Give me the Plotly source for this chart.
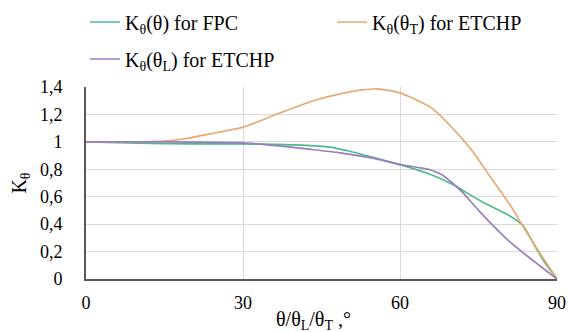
import plotly.graph_objects as go

# Data
x_fpc = [0, 10, 20, 30, 38, 42, 47, 50, 55, 60, 66, 70, 75.5, 81, 83.5, 85.5, 87.5, 90]
k_fpc = [1.0, 0.99, 0.985, 0.985, 0.98, 0.975, 0.96, 0.935, 0.885, 0.834, 0.76, 0.69, 0.567, 0.46, 0.39, 0.26, 0.13, 0.0]

x_etchp_t = [0, 10, 14, 18, 24, 30, 37, 43.5, 48.5, 52, 55.7, 60, 66, 69.7, 73.6, 77.4, 81.2, 83.1, 86.3, 90]
k_etchp_t = [1.0, 1.0, 1.003, 1.017, 1.06, 1.107, 1.21, 1.30, 1.35, 1.375, 1.387, 1.357, 1.248, 1.114, 0.944, 0.737, 0.53, 0.41, 0.214, 0.0]

x_etchp_l = [0, 10, 20, 30, 37, 43, 48.5, 55, 60, 64, 66, 68, 70, 72, 75.5, 81, 90]
k_etchp_l = [1.0, 1.0, 0.998, 0.993, 0.97, 0.945, 0.92, 0.88, 0.834, 0.81, 0.793, 0.76, 0.70, 0.63, 0.48, 0.27, 0.0]

x_ticks = [0, 30, 60, 90]
y_ticks = [0, 0.2, 0.4, 0.6, 0.8, 1.0, 1.2, 1.4]

name_fpc = "K<sub>θ</sub>(θ) for FPC"
name_t = "K<sub>θ</sub>(θ<sub>T</sub>) for ETCHP"
name_l = "K<sub>θ</sub>(θ<sub>L</sub>) for ETCHP"

C_GREEN = "#4dbb8a"
C_ORANGE = "#e8a872"
C_PURPLE = "#9a7cc0"
FONT = "Liberation Serif"

fig = go.Figure()
fig.add_trace(go.Scatter(x=x_fpc, y=k_fpc, mode="lines", name=name_fpc,
                         line=dict(color=C_GREEN, width=1.7, shape="spline", smoothing=0.6),
                         legend="legend"))
fig.add_trace(go.Scatter(x=x_etchp_t, y=k_etchp_t, mode="lines", name=name_t,
                         line=dict(color=C_ORANGE, width=1.7, shape="spline", smoothing=0.6),
                         legend="legend3"))
fig.add_trace(go.Scatter(x=x_etchp_l, y=k_etchp_l, mode="lines", name=name_l,
                         line=dict(color=C_PURPLE, width=1.7, shape="spline", smoothing=0.6),
                         legend="legend2"))

W, H = 568, 332
L, R, T, B = 86, 11, 87, 53
pw = W - L - R
ph = H - T - B

def px_x(p):
    return (p - L) / pw

def px_y(p):
    return (H - B - p) / ph

leg_common = dict(orientation="h", xanchor="left", yanchor="middle",
                  font=dict(family=FONT, size=20), bgcolor="rgba(0,0,0,0)", borderwidth=0)

fig.update_layout(
    width=W, height=H,
    margin=dict(l=L, r=R, t=T, b=B, autoexpand=False),
    paper_bgcolor="white", plot_bgcolor="white",
    separators=", ",
    font=dict(family=FONT, size=18, color="#000000"),
    showlegend=True,
    legend=dict(x=px_x(85), y=px_y(22), **leg_common),
    legend3=dict(x=px_x(332), y=px_y(22), **leg_common),
    legend2=dict(x=px_x(85), y=px_y(59), **leg_common),
    xaxis=dict(range=[0, 90], tickvals=x_ticks, showgrid=True, gridcolor="#d9d9d9", gridwidth=1,
               showline=True, linecolor="#595959", linewidth=2, zeroline=False, ticks="",
               ticklabelstandoff=6, tickfont=dict(family=FONT, size=18)),
    yaxis=dict(range=[0, 1.4], tickvals=y_ticks, showgrid=True, gridcolor="#d9d9d9", gridwidth=1,
               showline=True, linecolor="#595959", linewidth=2, zeroline=False, ticks="",
               ticklabelstandoff=18, tickfont=dict(family=FONT, size=18),
               title=dict(text="K<sub>θ</sub>", font=dict(family=FONT, size=20), standoff=8)),
    annotations=[dict(text="θ/θ<sub>L</sub>/θ<sub>T</sub> ,°", xref="paper", yref="paper",
                      x=px_x(313), y=px_y(320), xanchor="center", yanchor="middle",
                      showarrow=False, font=dict(family=FONT, size=20))],
)

fig.write_html("out.html", config={"displayModeBar": False},
               post_script="document.body.style.margin='0';document.body.style.overflow='hidden';")
